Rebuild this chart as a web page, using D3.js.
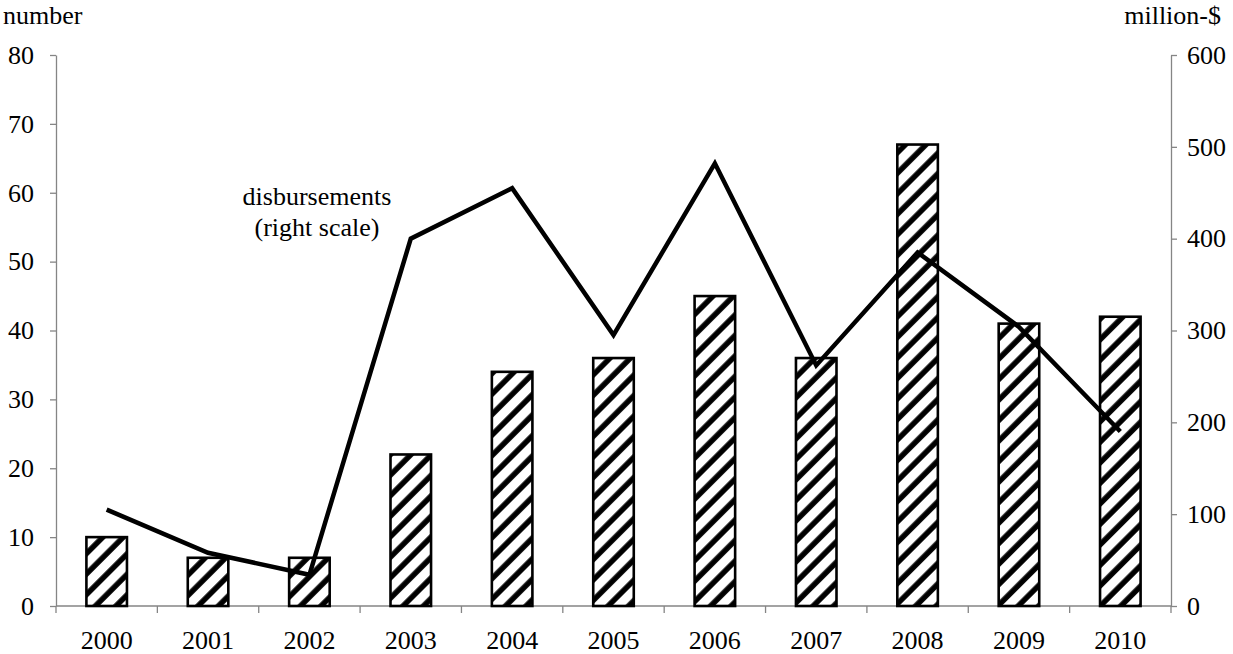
<!DOCTYPE html>
<html>
<head>
<meta charset="utf-8">
<script src="https://cdn.jsdelivr.net/npm/d3@7"></script>
<style>
  body { margin: 0; background: #fff; }
  text { font-family: "Liberation Serif", "Times New Roman", serif; }
</style>
</head>
<body>
<svg id="chart" width="1233" height="654"></svg>
<script>
// data
var years = ["2000", "2001", "2002", "2003", "2004", "2005", "2006", "2007", "2008", "2009", "2010"]
var projects = [10, 7, 7, 22, 34, 36, 45, 36, 67, 41, 42]          // bars, left scale
var disbursements = [105, 58, 34, 400, 455, 295, 482, 262, 385, 304, 190]  // line, right scale
var leftTicks = [0, 10, 20, 30, 40, 50, 60, 70, 80]
var rightTicks = [0, 100, 200, 300, 400, 500, 600]

var svg = d3.select("#chart")
// note: "top" is taken by window.top, so use plot* names
var plotLeft = 56, plotRight = 1171, plotTop = 55, plotBottom = 606
var axisColor = "#858585"
var fs = 26

var x = d3.scaleBand().domain(years).range([plotLeft, plotRight]).paddingInner(0.6).paddingOuter(0.3)
var yL = d3.scaleLinear().domain([0, 80]).range([plotBottom, plotTop])
var yR = d3.scaleLinear().domain([0, 600]).range([plotBottom, plotTop])

// hatch pattern for the bars
var defs = svg.append("defs")
var pat = defs.append("pattern")
    .attr("id", "hatch")
    .attr("patternUnits", "userSpaceOnUse")
    .attr("width", 14.5).attr("height", 14.5)
    .attr("patternTransform", "rotate(45)")
pat.append("rect").attr("width", 14.5).attr("height", 14.5).attr("fill", "#fff")
pat.append("line")
    .attr("x1", 3).attr("y1", 0).attr("x2", 3).attr("y2", 14.5)
    .attr("stroke", "#000").attr("stroke-width", 5.5)

// axes
function styleAxis(g) {
    g.selectAll("path, line").attr("stroke", axisColor).attr("stroke-width", 1.3)
    g.selectAll("text").attr("font-size", fs).attr("fill", "#000")
        .attr("font-family", "'Liberation Serif', 'Times New Roman', serif")
}

svg.append("g")
    .attr("transform", `translate(${plotLeft},0)`)
    .call(d3.axisLeft(yL).tickValues(leftTicks).tickSize(6).tickSizeOuter(0).tickPadding(16))
    .call(styleAxis)

svg.append("g")
    .attr("transform", `translate(${plotRight},0)`)
    .call(d3.axisRight(yR).tickValues(rightTicks).tickSize(6).tickSizeOuter(0).tickPadding(10))
    .call(styleAxis)

// bottom axis with ticks between categories
var xg = svg.append("g").attr("transform", `translate(0,${plotBottom})`)
xg.append("line").attr("x1", plotLeft).attr("x2", plotRight).attr("y1", 0).attr("y2", 0)
    .attr("stroke", axisColor).attr("stroke-width", 1.3)
var step = x.step()
var bounds = d3.range(years.length + 1).map(i => plotLeft + i * step)
xg.selectAll(".tk").data(bounds).enter().append("line")
    .attr("x1", d => d).attr("x2", d => d).attr("y1", 0).attr("y2", 7)
    .attr("stroke", axisColor).attr("stroke-width", 1.3)
xg.selectAll(".lbl").data(years).enter().append("text")
    .attr("x", d => x(d) + x.bandwidth() / 2)
    .attr("y", 43)
    .attr("text-anchor", "middle")
    .attr("font-size", fs)
    .text(d => d)

// bars
svg.selectAll(".bar").data(years).enter().append("rect")
    .attr("class", "bar")
    .attr("x", d => x(d))
    .attr("y", (d, i) => yL(projects[i]))
    .attr("width", x.bandwidth())
    .attr("height", (d, i) => plotBottom - yL(projects[i]))
    .attr("fill", "url(#hatch)")
    .attr("stroke", "#000")
    .attr("stroke-width", 2.6)

// disbursement line
var line = d3.line()
    .x((d, i) => x(years[i]) + x.bandwidth() / 2)
    .y(d => yR(d))
svg.append("path")
    .datum(disbursements)
    .attr("d", line)
    .attr("fill", "none")
    .attr("stroke", "#000")
    .attr("stroke-width", 4.5)
    .attr("stroke-linejoin", "miter")

// axis titles
svg.append("text").attr("x", 3).attr("y", 24).attr("font-size", fs).text("number")
svg.append("text").attr("x", 1221).attr("y", 24).attr("font-size", fs)
    .attr("text-anchor", "end").text("million-$")

// annotation
svg.append("text").attr("x", 317).attr("y", 205).attr("font-size", fs)
    .attr("text-anchor", "middle").text("disbursements")
svg.append("text").attr("x", 317).attr("y", 236).attr("font-size", fs)
    .attr("text-anchor", "middle").text("(right scale)")
</script>
</body>
</html>
